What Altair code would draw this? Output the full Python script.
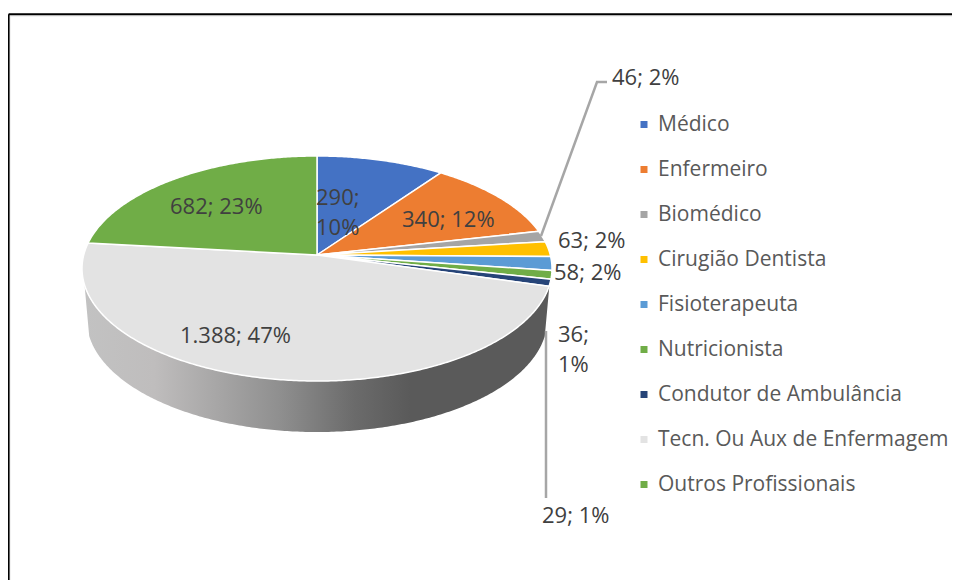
import math
import altair as alt

CATEGORIES = ["Médico", "Enfermeiro", "Biomédico", "Cirugião Dentista", "Fisioterapeuta",
              "Nutricionista", "Condutor de Ambulância", "Tecn. Ou Aux de Enfermagem", "Outros Profissionais"]
VALUES = [290, 340, 46, 63, 58, 36, 29, 1388, 682]
COLORS = ["#4472C4", "#ED7D31", "#A5A5A5", "#FFC000", "#5B9BD5", "#70AD47", "#264478", "#E3E3E3", "#70AD47"]
LABELS = ["290;\n10%", "340; 12%", "46; 2%", "63; 2%", "58; 2%", "36;\n1%", "29; 1%", "1.388; 47%", "682; 23%"]

# layout (page pixels, the canvas starts at 8,8)
OX, OY = 8, 8
CX, CY, RX, RY, PERSP = 317, 255, 233.3, 110.9, 0.12
LABEL_X = [316, 402, 612, 558, 554, 558, 542, 180, 170]
LABEL_Y = [198, 220, 78, 241, 273, 335, 516, 336, 207]


def project(theta):
    sx, cy = math.sin(theta), math.cos(theta)
    d = 1 + PERSP * cy
    return (CX + RX * sx / d - OX, CY - RY * cy / d - OY)


def arc(a0, a1, step=0.01):
    n = max(2, int(abs(a1 - a0) / step))
    return [project(a0 + (a1 - a0) * i / n) for i in range(n + 1)]


def feature(name, kind, coords):
    return {"type": "Feature", "properties": {"name": name},
            "geometry": {"type": kind, "coordinates": coords}}


total = sum(VALUES)
slices, acc = [], 0
for name, v in zip(CATEGORIES, VALUES):
    a0 = 2 * math.pi * acc / total
    acc += v
    a1 = 2 * math.pi * acc / total
    ring = [(CX - OX, CY - OY)] + arc(a0, a1)
    ring.append(ring[0])
    slices.append(feature(name, "Polygon", [[list(p) for p in ring]]))

top = arc(math.radians(105.2), math.radians(254.8))
low = [(CX - OX + (x - CX + OX) * 0.98, y + 51) for x, y in reversed(top)]
side_ring = top + low + [top[0]]
side = feature("side", "Polygon", [[list(p) for p in side_ring]])


def fc(features):
    return alt.InlineData(values={"type": "FeatureCollection", "features": features},
                          format=alt.DataFormat(type="json", property="features"))


def polyline(points):
    return feature("line", "LineString", [[x - OX, y - OY] for x, y in points])


projection = dict(type="identity", scale=1, translate=[0, 0])

side_layer = alt.Chart(fc([side])).mark_geoshape(
    stroke=None,
    fill=alt.LinearGradient(
        gradient="linear", x1=0, y1=0, x2=1, y2=0,
        stops=[alt.GradientStop(color="#C2C2C2", offset=0),
               alt.GradientStop(color="#BFBDBD", offset=0.15),
               alt.GradientStop(color="#8F8F8F", offset=0.42),
               alt.GradientStop(color="#6B6B6B", offset=0.58),
               alt.GradientStop(color="#5A5A5A", offset=0.70),
               alt.GradientStop(color="#5A5A5A", offset=1)],
    ),
)

slice_layer = alt.Chart(fc(slices)).mark_geoshape(stroke="white", strokeWidth=1.5).encode(
    color=alt.Color(
        "properties.name:N",
        scale=alt.Scale(domain=CATEGORIES, range=COLORS),
        legend=alt.Legend(
            title=None, orient="none", legendX=625.5, legendY=106,
            symbolType="square", symbolSize=49, symbolStrokeWidth=0,
            labelFont="Open Sans", labelFontSize=21, labelColor="#595959",
            labelLimit=320, labelOffset=3.5, rowPadding=23, padding=0,
        ),
    )
)

leaders = alt.Chart(fc([
    polyline([(541, 236), (597, 82), (607, 82)]),
    polyline([(546, 331), (546, 498)]),
])).mark_geoshape(filled=False, stroke="#A6A6A6", strokeWidth=2.5)

frame = alt.Chart(fc([
    polyline([(8.6, 14.3), (960, 14.3)]),
    polyline([(8.6, 14.3), (8.6, 588)]),
])).mark_geoshape(filled=False, stroke="black", strokeWidth=2)

inner = alt.Chart(fc([
    polyline([(10, 16), (960, 16)]),
    polyline([(10, 16), (10, 588)]),
])).mark_geoshape(filled=False, stroke="#E6E6E6", strokeWidth=1)

label_rows = [{"t": t, "lon": x - OX, "lat": y - OY} for t, x, y in zip(LABELS, LABEL_X, LABEL_Y)]
texts = alt.Chart(alt.Data(values=label_rows)).mark_text(
    align="left", baseline="middle", font="Open Sans", fontSize=22, color="#404040",
    lineBreak="\n", lineHeight=30,
).encode(longitude="lon:Q", latitude="lat:Q", text="t:N")

chart = alt.layer(inner, frame, side_layer, slice_layer, leaders, texts).project(**projection).properties(
    width=944, height=572, padding=0, background="white",
    autosize=alt.AutoSizeParams(type="none"),
).configure_view(stroke=None)

chart.save("out.html", embed_options={"renderer": "svg", "actions": False})
